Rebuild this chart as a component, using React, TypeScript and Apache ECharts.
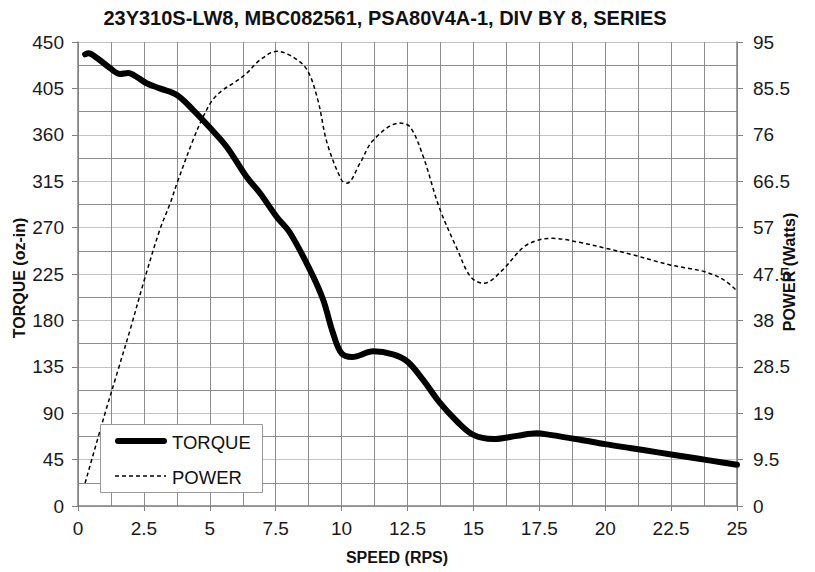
import React, { useEffect, useRef } from "react";
import * as echarts from "echarts";

const titleText = "23Y310S-LW8, MBC082561, PSA80V4A-1, DIV BY 8, SERIES";
const xAxisName = "SPEED (RPS)";
const leftAxisName = "TORQUE (oz-in)";
const rightAxisName = "POWER (Watts)";
const legendNames = ["TORQUE", "POWER"];

const torqueSpeed = [0.27, 0.4, 0.72, 1.2, 1.6, 1.9, 2.24, 2.6, 3.1, 3.75, 4.37, 5, 5.65, 6.4, 6.9, 7.55, 8.04, 8.8, 9.3, 9.67, 10.0, 10.4, 11.2, 11.95, 12.5, 13.1, 13.7, 14.4, 15, 15.75, 16.65, 17.4, 17.9, 19, 20, 21, 22, 23, 24, 25];
const torqueValues = [438, 439, 434.5, 425, 419, 420, 416, 410, 405, 398.6, 384, 367, 348, 319, 303.6, 280, 265, 229, 200, 168, 148, 144.5, 150, 147, 140, 122, 101, 81.5, 69, 65, 68, 70.5, 69, 64.5, 60, 56, 52, 48, 44, 40];

const powerSpeed = [0.27, 1, 1.5, 2, 2.5, 3.1, 3.5, 3.75, 4.37, 4.74, 5.1, 5.5, 5.9, 6.4, 6.9, 7.55, 8.16, 8.69, 9.1, 9.45, 10.0, 10.2, 10.7, 11.2, 12.2, 12.6, 13.1, 13.7, 14.4, 14.9, 15.4, 16.1, 16.9, 17.5, 18, 19, 20, 21, 22, 22.5, 23, 23.75, 24.5, 25];
const powerValues = [4.7, 18.5, 27.5, 36.5, 46, 56.5, 62, 66, 75, 79.6, 83.1, 85.2, 86.6, 88.6, 91.3, 93.1, 91.9, 89.3, 83.1, 74.3, 66.7, 66.1, 70.2, 74.9, 78.4, 77.6, 71.5, 61.2, 52.4, 46.9, 45.6, 48.3, 53.0, 54.5, 54.8, 54, 52.8, 51.5, 50, 49.3, 48.8, 48, 46.3, 44];

const FONT = "'Liberation Sans', Arial, sans-serif";

export default function App() {
  const ref = useRef<HTMLDivElement>(null);
  useEffect(() => {
    if (!ref.current) return;
    const chart = echarts.init(ref.current, undefined, { renderer: "svg" });
    const torqueData = torqueSpeed.map((s, i) => [s, torqueValues[i]]);
    const powerData = powerSpeed.map((s, i) => [s, powerValues[i]]);
    const bold = (size: number) => ({
      fontSize: size,
      fontWeight: "bold",
      fontFamily: FONT,
      fill: "#111",
      textAlign: "center",
      textVerticalAlign: "middle",
    });
    chart.setOption({
      animation: false,
      backgroundColor: "#ffffff",
      grid: { left: 78, right: 78, top: 42, bottom: 66, containLabel: false },
      legend: { show: false },
      graphic: [
        { type: "text", x: 385, y: 18, style: { text: titleText, ...bold(20) } },
        { type: "text", x: 397, y: 557, style: { text: xAxisName, ...bold(16) } },
        { type: "text", x: 19, y: 278, rotation: Math.PI / 2, style: { text: leftAxisName, ...bold(16) } },
        { type: "text", x: 789, y: 272, rotation: Math.PI / 2, z: 100, style: { text: rightAxisName, ...bold(16) } },
        {
          type: "rect",
          z: 100,
          shape: { x: 100.5, y: 424.5, width: 162, height: 68 },
          style: { fill: "#ffffff", stroke: "#999999", lineWidth: 1 },
        },
        {
          type: "line",
          z: 101,
          shape: { x1: 118, y1: 441, x2: 164, y2: 441 },
          style: { stroke: "#000000", lineWidth: 6, lineCap: "round" },
        },
        {
          type: "text",
          z: 101,
          x: 172,
          y: 442,
          style: { text: legendNames[0], fontSize: 18.5, fontFamily: FONT, fill: "#111", textAlign: "left", textVerticalAlign: "middle" },
        },
        {
          type: "line",
          z: 101,
          shape: { x1: 115, y1: 476, x2: 166, y2: 476 },
          style: { stroke: "#000000", lineWidth: 1.5, lineDash: [4, 3] },
        },
        {
          type: "text",
          z: 101,
          x: 172,
          y: 477,
          style: { text: legendNames[1], fontSize: 18.5, fontFamily: FONT, fill: "#111", textAlign: "left", textVerticalAlign: "middle" },
        },
      ],
      xAxis: {
        type: "value",
        min: 0,
        max: 25,
        interval: 2.5,
        axisLine: { show: true, onZero: false, lineStyle: { color: "#808080", width: 1.5 } },
        axisTick: { show: true, length: 5, lineStyle: { color: "#808080" } },
        axisLabel: { fontSize: 19, color: "#1a1a1a", fontFamily: FONT, margin: 13 },
        splitLine: { show: true, lineStyle: { color: "#8c8c8c", width: 1 } },
        minorTick: { show: false, splitNumber: 2 },
        minorSplitLine: { show: true, lineStyle: { color: "#8c8c8c", width: 1 } },
      },
      yAxis: [
        {
          type: "value",
          min: 0,
          max: 450,
          interval: 45,
          axisLine: { show: true, lineStyle: { color: "#808080", width: 1.5 } },
          axisTick: { show: true, length: 6, lineStyle: { color: "#808080" } },
          axisLabel: { fontSize: 19, color: "#1a1a1a", fontFamily: FONT, margin: 14 },
          splitLine: { show: true, lineStyle: { color: "#c4c4c4", width: 1 } },
          minorTick: { show: false, splitNumber: 2 },
          minorSplitLine: { show: true, lineStyle: { color: "#8c8c8c", width: 1 } },
        },
        {
          type: "value",
          min: 0,
          max: 95,
          interval: 9.5,
          position: "right",
          axisLine: { show: true, lineStyle: { color: "#808080", width: 1.5 } },
          axisTick: { show: true, length: 6, lineStyle: { color: "#808080" } },
          axisLabel: { fontSize: 19, color: "#1a1a1a", fontFamily: FONT, margin: 16 },
          splitLine: { show: false },
        },
      ],
      series: [
        {
          name: "TORQUE",
          type: "line",
          yAxisIndex: 0,
          data: torqueData,
          smooth: 0.35,
          symbol: "none",
          lineStyle: { color: "#000000", width: 6, cap: "round", join: "round" },
          itemStyle: { color: "#000000" },
          z: 5,
        },
        {
          name: "POWER",
          type: "line",
          yAxisIndex: 1,
          data: powerData,
          smooth: 0.35,
          symbol: "none",
          lineStyle: { color: "#000000", width: 1.5, type: [4, 3] },
          itemStyle: { color: "#000000" },
          z: 4,
        },
      ],
    });
    return () => chart.dispose();
  }, []);
  return <div ref={ref} style={{ width: 815, height: 572, position: "absolute", left: 0, top: 0 }} />;
}
